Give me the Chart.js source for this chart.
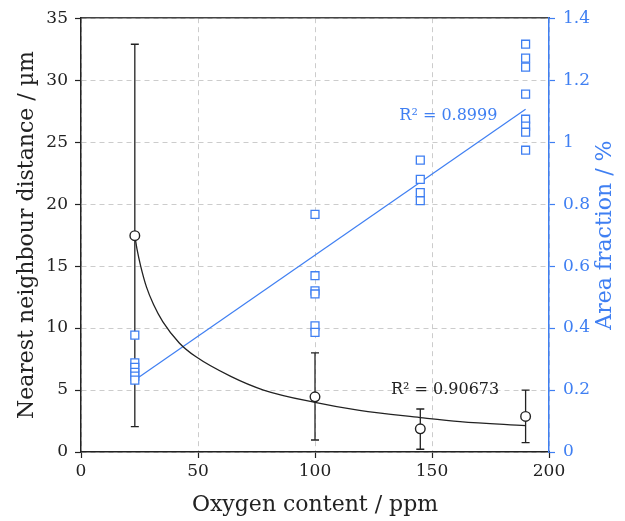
<!DOCTYPE html>
<html>
<head>
<meta charset="utf-8">
<script src="https://cdn.jsdelivr.net/npm/chart.js@4"></script>
<style>
  html, body { margin: 0; padding: 0; background: #fff; }
  canvas { display: block; }
</style>
</head>
<body>
<canvas id="chartOxygen" width="625" height="521"></canvas>
<script>
// ===== Dados =====
const oxigenio = [23, 100, 145, 190];
const distancia = [17.45, 4.45, 1.87, 2.87];
const erroMin = [2.05, 0.97, 0.22, 0.75];
const erroMax = [32.9, 8.0, 3.47, 5.0];

const fracaoX = [23, 23, 23, 23, 23, 23,
  100, 100, 100, 100, 100, 100,
  145, 145, 145, 145,
  190, 190, 190, 190, 190, 190, 190, 190];
const fracaoY = [0.377, 0.288, 0.273, 0.257, 0.245, 0.232,
  0.767, 0.569, 0.520, 0.510, 0.407, 0.386,
  0.942, 0.880, 0.837, 0.811,
  1.316, 1.271, 1.242, 1.155, 1.074, 1.052, 1.032, 0.974];

// curva de ajuste (distância) e reta de ajuste (fração)
const ajusteDistX = [23, 24, 25.5, 28, 31, 35, 42, 49, 64, 78, 100, 119, 145, 162, 190];
const ajusteDistY = [17.45, 16.3, 15.0, 13.3, 11.9, 10.5, 8.8, 7.7, 6.1, 5.0, 4.0, 3.35, 2.78, 2.45, 2.12];
const ajusteFracX = [23, 190];
const ajusteFracY = [0.232, 1.106];

const ticksX = [0, 50, 100, 150, 200];
const r2Fracao = 'R² = 0.8999';
const r2Dist = 'R² = 0.90673';
const tituloDireita = 'Area fraction / %';

const AZUL = '#3f7ff2';
const PRETO = '#222222';
const FONTE = "'DejaVu Serif', serif";

const pares = (xs, ys) => xs.map((x, i) => ({ x, y: ys[i] }));

// ===== Barras de erro + textos R² + título do eixo direito =====
const extras = {
  id: 'extras',
  beforeDatasetsDraw(chart) {
    const { ctx, scales: { x, y } } = chart;
    ctx.save();
    ctx.strokeStyle = PRETO;
    ctx.lineWidth = 1.3;
    oxigenio.forEach((o, i) => {
      const px = x.getPixelForValue(o);
      const y1 = y.getPixelForValue(erroMin[i]);
      const y2 = y.getPixelForValue(erroMax[i]);
      ctx.beginPath();
      ctx.moveTo(px, y1); ctx.lineTo(px, y2);
      ctx.moveTo(px - 4, y1); ctx.lineTo(px + 4, y1);
      ctx.moveTo(px - 4, y2); ctx.lineTo(px + 4, y2);
      ctx.stroke();
    });
    ctx.restore();
  },
  afterDatasetsDraw(chart) {
    const { ctx, chartArea, scales: { x, y } } = chart;
    ctx.save();
    ctx.font = "16px " + FONTE;
    ctx.textAlign = 'center';
    ctx.textBaseline = 'middle';
    ctx.fillStyle = AZUL;
    ctx.fillText(r2Fracao, x.getPixelForValue(157), y.getPixelForValue(27.1));
    ctx.fillStyle = PRETO;
    ctx.fillText(r2Dist, x.getPixelForValue(155.6), y.getPixelForValue(5.0));

    // título do eixo direito, lido de baixo para cima
    ctx.translate(chart.width - 20, (chartArea.top + chartArea.bottom) / 2);
    ctx.rotate(-Math.PI / 2);
    ctx.font = "22px " + FONTE;
    ctx.fillStyle = AZUL;
    ctx.fillText(tituloDireita, 0, 0);
    ctx.restore();
  }
};

const grade = { color: '#cccccc', lineWidth: 1, tickColor: PRETO, tickLength: 6, tickWidth: 1.2 };

new Chart(document.getElementById('chartOxygen'), {
  type: 'scatter',
  data: {
    datasets: [
      {
        label: 'ajuste fração',
        type: 'line',
        data: pares(ajusteFracX, ajusteFracY),
        yAxisID: 'y1',
        borderColor: AZUL,
        borderWidth: 1.2,
        pointRadius: 0,
        fill: false,
        order: 4
      },
      {
        label: 'ajuste distância',
        type: 'line',
        data: pares(ajusteDistX, ajusteDistY),
        yAxisID: 'y',
        borderColor: PRETO,
        borderWidth: 1.3,
        pointRadius: 0,
        cubicInterpolationMode: 'monotone',
        fill: false,
        order: 3
      },
      {
        label: 'Área',
        data: pares(fracaoX, fracaoY),
        yAxisID: 'y1',
        pointStyle: 'rect',
        pointRadius: 5.6,
        borderColor: AZUL,
        backgroundColor: '#ffffff',
        borderWidth: 1.3,
        order: 2
      },
      {
        label: 'Distância',
        data: pares(oxigenio, distancia),
        yAxisID: 'y',
        pointStyle: 'circle',
        pointRadius: 4.8,
        borderColor: PRETO,
        backgroundColor: '#ffffff',
        borderWidth: 1.4,
        order: 1
      }
    ]
  },
  options: {
    responsive: false,
    devicePixelRatio: 1,
    animation: false,
    layout: { padding: 0 },
    plugins: { legend: { display: false }, tooltip: { enabled: false } },
    scales: {
      x: {
        type: 'linear', position: 'bottom', min: 0, max: 200,
        afterBuildTicks: s => { s.ticks = ticksX.map(v => ({ value: v })); },
        afterFit: s => { s.height = 69; },
        grid: grade,
        border: { color: PRETO, width: 1.5, dash: [5, 4] },
        ticks: { color: PRETO, padding: 3, font: { family: FONTE, size: 17 }, maxRotation: 0 },
        title: { display: true, text: 'Oxygen content / ppm', color: PRETO,
          font: { family: FONTE, size: 22 }, padding: { bottom: 3 } }
      },
      xTop: {
        type: 'linear', position: 'top', min: 0, max: 200, display: true,
        afterFit: s => { s.height = 18; },
        grid: { drawOnChartArea: false, drawTicks: false },
        border: { color: '#444444', width: 1.5 },
        ticks: { display: false }
      },
      y: {
        type: 'linear', position: 'left', min: 0, max: 35,
        ticks: { stepSize: 5, color: PRETO, padding: 7, font: { family: FONTE, size: 17 } },
        afterFit: s => { s.width = 81; },
        grid: grade,
        border: { color: PRETO, width: 1.5, dash: [5, 4] },
        title: { display: true, text: 'Nearest neighbour distance / µm', color: PRETO,
          font: { family: FONTE, size: 22 }, padding: { top: 14 } }
      },
      y1: {
        type: 'linear', position: 'right', min: 0, max: 1.4,
        ticks: { stepSize: 0.2, color: AZUL, padding: 8, font: { family: FONTE, size: 17 },
          callback: v => String(Math.round(v * 10) / 10) },
        afterFit: s => { s.width = 76; },
        grid: { drawOnChartArea: false, tickColor: AZUL, tickLength: 6, tickWidth: 1.2 },
        border: { color: AZUL, width: 1.5 },
        title: { display: false }
      }
    }
  },
  plugins: [extras]
});
</script>
</body>
</html>
